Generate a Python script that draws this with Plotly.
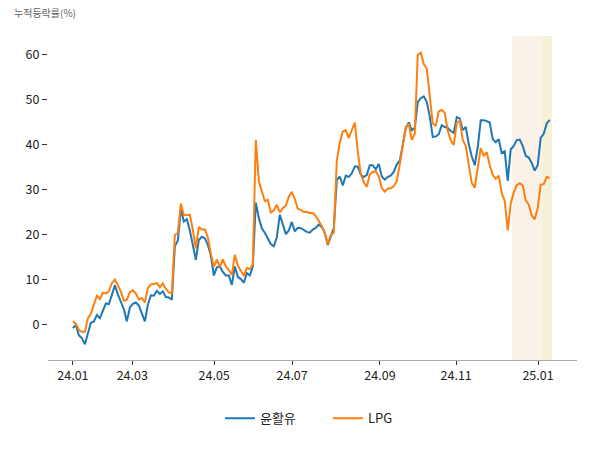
import plotly.graph_objects as go

# trading-point index along the x axis
tick_positions = [0, 19.8, 47.1, 73.1, 102.4, 127.8, 155.1]
tick_labels = ["24.01", "24.03", "24.05", "24.07", "24.09", "24.11", "25.01"]

lubricant = [
    -0.7, 0.0, -2.3, -2.9, -4.3, -1.8, 0.5, 0.8, 2.2, 1.5,
    3.0, 4.8, 4.6, 6.8, 8.8, 6.8, 5.3, 3.5, 0.8, 3.9,
    4.7, 5.0, 4.3, 2.5, 0.8, 4.5, 6.6, 6.5, 7.6, 6.9,
    7.5, 6.2, 6.1, 5.6, 17.5, 18.8, 25.8, 23.0, 23.5, 21.0,
    17.5, 14.5, 18.9, 19.6, 19.3, 17.8, 15.5, 11.0, 12.8, 13.0,
    11.8, 11.0, 11.0, 8.9, 13.0, 10.7, 10.2, 9.4, 11.5, 11.0,
    13.0, 27.2, 23.8, 21.5, 20.5, 19.4, 18.0, 17.5, 19.5, 24.5,
    22.5, 20.2, 21.0, 22.9, 20.8, 21.6, 21.5, 21.0, 20.7, 20.5,
    21.2, 21.6, 22.3, 21.8, 20.5, 17.8, 19.6, 21.5, 32.2, 33.0,
    31.0, 33.2, 32.9, 33.7, 35.2, 35.2, 33.4, 32.9, 33.3, 35.5,
    35.5, 34.6, 35.8, 33.0, 32.3, 32.9, 33.2, 34.0, 35.7, 36.5,
    40.0, 43.7, 45.0, 43.3, 43.8, 49.5, 50.4, 50.8, 49.6, 46.3,
    41.8, 41.9, 42.4, 44.4, 44.0, 43.8, 43.1, 42.7, 46.2, 45.9,
    43.3, 44.0, 40.2, 37.5, 35.5, 39.5, 45.5, 45.5, 45.3, 45.0,
    41.3, 40.6, 41.3, 38.2, 38.6, 32.0, 39.0, 39.8, 41.1, 41.2,
    39.8, 37.6, 37.2, 36.0, 34.3, 35.5, 41.6, 42.5, 44.8, 45.6,
]

lpg = [
    0.8, 0.3, -1.1, -1.5, -1.5, 1.5, 2.5, 4.3, 6.5, 5.8,
    7.2, 7.0, 7.5, 9.3, 10.1, 8.8, 7.4, 5.4, 5.6, 7.3,
    7.7, 7.0, 5.7, 6.0, 5.0, 8.2, 9.0, 9.1, 9.3, 8.4,
    9.2, 8.0, 7.2, 7.1, 20.0, 20.5, 27.0, 24.4, 24.5, 24.5,
    21.1, 17.0, 21.8, 21.2, 21.2, 19.5, 15.8, 13.0, 14.5, 12.9,
    14.6, 13.0, 12.2, 11.1, 15.6, 13.2, 12.0, 10.9, 12.7, 12.4,
    13.5, 41.1, 32.0, 30.0, 27.5, 27.8, 25.0, 25.5, 26.7, 25.0,
    26.0, 26.5, 28.5, 29.6, 28.0, 25.8, 25.6, 25.1, 25.1, 24.9,
    24.9, 24.2, 23.2, 22.0, 20.5, 18.0, 20.0, 20.5, 36.5, 40.5,
    43.0, 43.3, 41.5, 43.3, 45.0, 38.5, 33.5, 31.7, 30.7, 33.5,
    34.0, 34.2, 33.0, 30.5, 29.6, 30.3, 30.4, 30.8, 32.0, 35.7,
    39.6, 44.0, 44.7, 41.1, 42.5, 60.0, 60.5, 58.0, 57.0, 51.5,
    44.8, 44.2, 47.5, 47.8, 47.1, 43.2, 41.0, 40.0, 44.9, 45.4,
    41.1, 39.8, 36.0, 31.6, 30.5, 35.0, 39.3, 37.5, 38.4, 35.5,
    33.3, 32.5, 33.2, 29.3, 27.5, 21.0, 27.0, 29.4, 31.1, 31.5,
    31.0, 27.7, 26.8, 24.3, 23.5, 26.0, 31.2, 31.3, 32.9, 32.7,
]

x_idx = list(range(len(lubricant)))

# highlighted periods (in index units)
band1 = [146.5, 156.5]
band2 = [156.5, 159.7]

font_family = "Noto Sans CJK KR, Noto Sans, sans-serif"

fig = go.Figure()
fig.add_trace(go.Scatter(x=x_idx, y=lubricant, mode="lines", name="윤활유",
                         line=dict(color="#1f77b4", width=2)))
fig.add_trace(go.Scatter(x=x_idx, y=lpg, mode="lines", name="LPG",
                         line=dict(color="#ff7f0e", width=2)))

fig.add_shape(type="rect", xref="x", yref="paper", x0=band1[0], x1=band1[1],
              y0=0, y1=1, fillcolor="#FAF1E8", line_width=0, layer="below")
fig.add_shape(type="rect", xref="x", yref="paper", x0=band2[0], x1=band2[1],
              y0=0, y1=1, fillcolor="#F5F1D6", line_width=0, layer="below")

fig.update_layout(
    width=600, height=450,
    margin=dict(l=48, r=23, t=36, b=90),
    paper_bgcolor="white", plot_bgcolor="white",
    font=dict(family=font_family, size=12, color="#222"),
    showlegend=True,
    legend=dict(orientation="h", x=0.325, xanchor="left", y=-0.18, yanchor="middle",
                font=dict(size=13, color="#222"), itemwidth=30,
                entrywidth=63, entrywidthmode="pixels"),
    annotations=[dict(text="누적등락률(%)", xref="paper", yref="paper",
                      x=-0.068, y=1.0, xanchor="left", yanchor="bottom",
                      yshift=14, showarrow=False,
                      font=dict(size=10, color="#666"))],
)

fig.update_xaxes(range=[-8.3, 168.1], tickmode="array", tickvals=tick_positions,
                 ticktext=tick_labels, showgrid=False, zeroline=False,
                 showline=True, linecolor="#aaaaaa", linewidth=1,
                 ticks="outside", ticklen=4, tickcolor="#333",
                 tickfont=dict(size=12.5, color="#222"))
fig.update_yaxes(range=[-7.78, 64.22], tickvals=[0, 10, 20, 30, 40, 50, 60],
                 showgrid=False, zeroline=False, showline=False,
                 ticks="outside", ticklen=5, tickcolor="#333",
                 tickfont=dict(size=12.5, color="#222"))

fig.write_html("out.html")
